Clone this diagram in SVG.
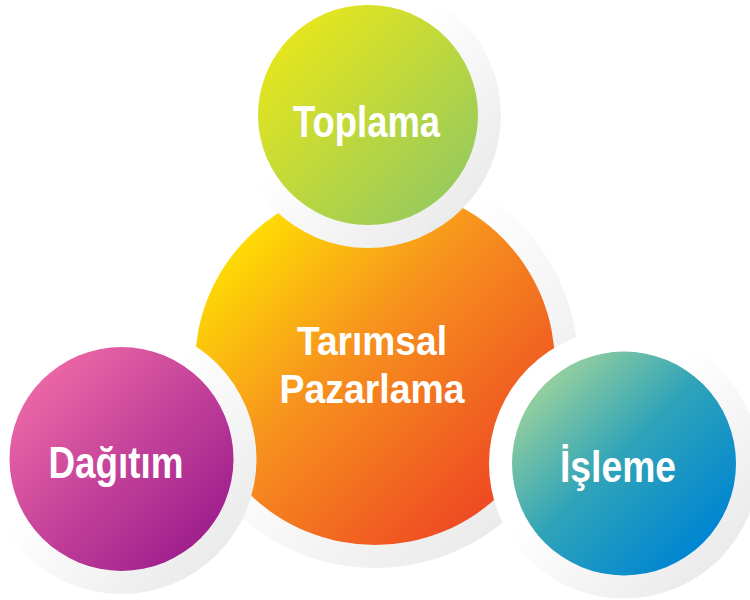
<svg xmlns="http://www.w3.org/2000/svg" width="750" height="600" viewBox="0 0 750 600">
<defs>
<linearGradient id="ring" x1="0" y1="0" x2="1" y2="1">
<stop offset="0.42" stop-color="#ffffff"/>
<stop offset="1" stop-color="#e4e4e4"/>
</linearGradient>
<linearGradient id="gOrange" x1="0.1" y1="0.1" x2="0.85" y2="0.85">
<stop offset="0" stop-color="#ffe600"/>
<stop offset="0.45" stop-color="#f7941d"/>
<stop offset="1" stop-color="#ee4a23"/>
</linearGradient>
<linearGradient id="gGreen" x1="0.1" y1="0.1" x2="0.85" y2="0.85">
<stop offset="0" stop-color="#e9e71a"/>
<stop offset="1" stop-color="#9acb5a"/>
</linearGradient>
<linearGradient id="gPink" x1="0.1" y1="0.1" x2="0.85" y2="0.85">
<stop offset="0" stop-color="#ef6aa7"/>
<stop offset="1" stop-color="#a0208e"/>
</linearGradient>
<linearGradient id="gBlue" x1="0.1" y1="0.1" x2="0.85" y2="0.85">
<stop offset="0" stop-color="#a2d59a"/>
<stop offset="0.5" stop-color="#2fa3b9"/>
<stop offset="1" stop-color="#0086d2"/>
</linearGradient>
</defs>
<style>
.ring{fill:url(#ring)}
.lbl{font-family:"Liberation Sans","Arial",sans-serif;font-weight:bold;font-size:44px;fill:#ffffff;text-anchor:middle}
.lbl2{font-size:41px}
</style>
<g id="connectors"/>
<g id="center">
<circle class="ring" cx="375" cy="365" r="203"/>
<circle cx="375" cy="365" r="180" fill="url(#gOrange)"/>
<text class="lbl lbl2" x="372" y="355" textLength="150" lengthAdjust="spacingAndGlyphs">Tarımsal</text>
<text class="lbl lbl2" x="372" y="403" textLength="185" lengthAdjust="spacingAndGlyphs">Pazarlama</text>
</g>
<g id="toplama">
<circle class="ring" cx="368" cy="115" r="133"/>
<circle cx="368" cy="115" r="110" fill="url(#gGreen)"/>
<text class="lbl" x="366.5" y="137" textLength="147" lengthAdjust="spacingAndGlyphs">Toplama</text>
</g>
<g id="dagitim">
<circle class="ring" cx="121.5" cy="459" r="135"/>
<circle cx="121.5" cy="459" r="112" fill="url(#gPink)"/>
<text class="lbl" x="116" y="478" textLength="135" lengthAdjust="spacingAndGlyphs">Dağıtım</text>
</g>
<g id="isleme">
<circle class="ring" cx="624" cy="463.5" r="135"/>
<circle cx="624" cy="463.5" r="112" fill="url(#gBlue)"/>
<text class="lbl" x="618" y="482" textLength="116" lengthAdjust="spacingAndGlyphs">İşleme</text>
</g>
</svg>
